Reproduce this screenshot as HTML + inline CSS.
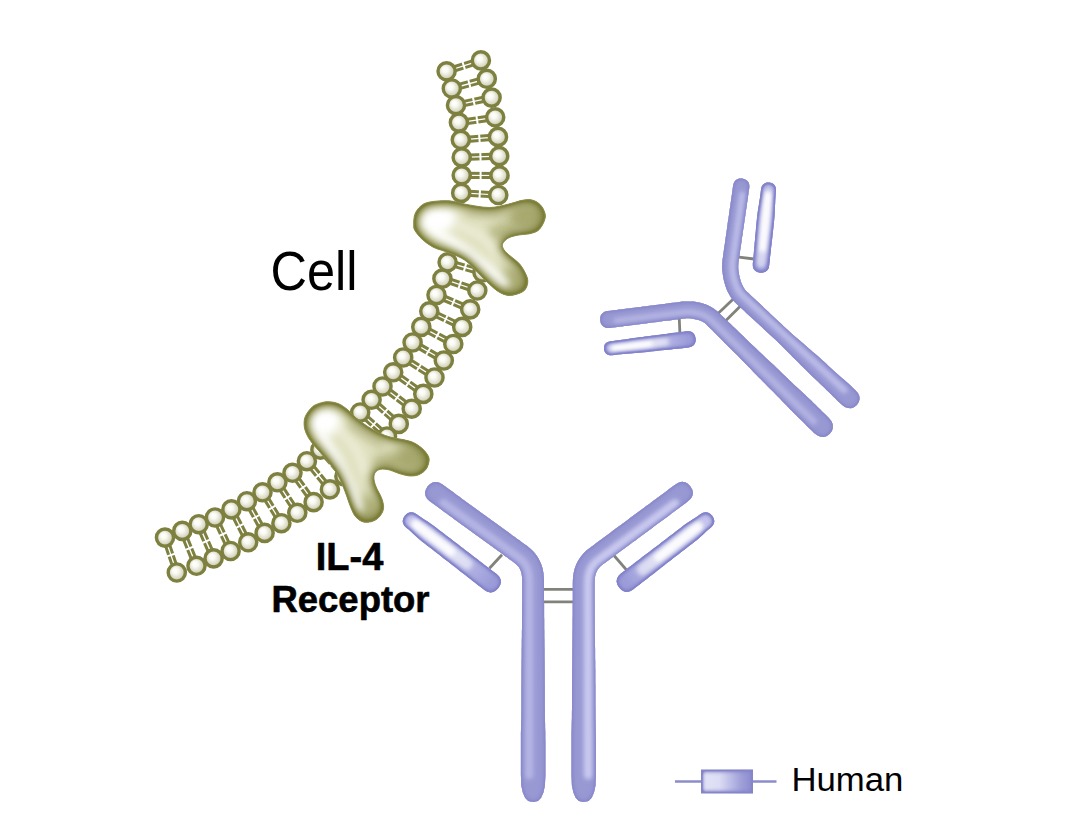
<!DOCTYPE html>
<html lang="en"><head><meta charset="utf-8"><title>IL-4 Receptor</title>
<style>html,body{margin:0;padding:0;background:#fff;}body{width:1080px;height:835px;overflow:hidden;}svg{display:block;}</style>
</head><body>
<svg width="1080" height="835" viewBox="0 0 1080 835"><defs><radialGradient id="bead" cx="0.5" cy="0.5" r="0.56" fx="0.38" fy="0.36"><stop offset="0" stop-color="#ffffff"/><stop offset="0.3" stop-color="#fafaf4"/><stop offset="0.68" stop-color="#dadac6"/><stop offset="1" stop-color="#a2a27c"/></radialGradient><linearGradient id="lgleg" x1="0" y1="0" x2="1" y2="0"><stop offset="0" stop-color="#e4e4f7"/><stop offset="0.35" stop-color="#dcdcf4"/><stop offset="0.8" stop-color="#9c9cd8"/><stop offset="1" stop-color="#8c8cce"/></linearGradient><filter id="b2" filterUnits="userSpaceOnUse" x="0" y="0" width="1080" height="835"><feGaussianBlur stdDeviation="2"/></filter><filter id="b4" filterUnits="userSpaceOnUse" x="0" y="0" width="1080" height="835"><feGaussianBlur stdDeviation="4"/></filter><filter id="b6" filterUnits="userSpaceOnUse" x="0" y="0" width="1080" height="835"><feGaussianBlur stdDeviation="6"/></filter><filter id="glowP" x="-10%" y="-10%" width="120%" height="120%" color-interpolation-filters="sRGB"><feComponentTransfer in="SourceAlpha" result="inv"><feFuncA type="table" tableValues="1 0"/></feComponentTransfer><feGaussianBlur in="inv" stdDeviation="2.4" result="bl0"/><feComponentTransfer in="bl0" result="bm0"><feFuncA type="linear" slope="1.35" intercept="0"/></feComponentTransfer><feFlood flood-color="#7e7ec6" result="fl0"/><feComposite in="fl0" in2="bm0" operator="in" result="sh0"/><feComposite in="sh0" in2="SourceAlpha" operator="in" result="sc0"/><feGaussianBlur in="inv" stdDeviation="0.7" result="bl1"/><feComponentTransfer in="bl1" result="bm1"><feFuncA type="linear" slope="1.3" intercept="0"/></feComponentTransfer><feFlood flood-color="#8080c6" result="fl1"/><feComposite in="fl1" in2="bm1" operator="in" result="sh1"/><feComposite in="sh1" in2="SourceAlpha" operator="in" result="sc1"/><feMerge><feMergeNode in="SourceGraphic"/><feMergeNode in="sc0"/><feMergeNode in="sc1"/></feMerge></filter><filter id="glowL" x="-10%" y="-10%" width="120%" height="120%" color-interpolation-filters="sRGB"><feComponentTransfer in="SourceAlpha" result="inv"><feFuncA type="table" tableValues="1 0"/></feComponentTransfer><feGaussianBlur in="inv" stdDeviation="2.8" result="bl0"/><feComponentTransfer in="bl0" result="bm0"><feFuncA type="linear" slope="3.0" intercept="0"/></feComponentTransfer><feFlood flood-color="#8686cc" result="fl0"/><feComposite in="fl0" in2="bm0" operator="in" result="sh0"/><feComposite in="sh0" in2="SourceAlpha" operator="in" result="sc0"/><feGaussianBlur in="inv" stdDeviation="1.0" result="bl1"/><feComponentTransfer in="bl1" result="bm1"><feFuncA type="linear" slope="2.4" intercept="0"/></feComponentTransfer><feFlood flood-color="#8282c8" result="fl1"/><feComposite in="fl1" in2="bm1" operator="in" result="sh1"/><feComposite in="sh1" in2="SourceAlpha" operator="in" result="sc1"/><feMerge><feMergeNode in="SourceGraphic"/><feMergeNode in="sc0"/><feMergeNode in="sc1"/></feMerge></filter><filter id="glowO" x="-10%" y="-10%" width="120%" height="120%" color-interpolation-filters="sRGB"><feComponentTransfer in="SourceAlpha" result="inv"><feFuncA type="table" tableValues="1 0"/></feComponentTransfer><feGaussianBlur in="inv" stdDeviation="6" result="bl0"/><feComponentTransfer in="bl0" result="bm0"><feFuncA type="linear" slope="2.3" intercept="0"/></feComponentTransfer><feFlood flood-color="#7b7d38" result="fl0"/><feComposite in="fl0" in2="bm0" operator="in" result="sh0"/><feComposite in="sh0" in2="SourceAlpha" operator="in" result="sc0"/><feGaussianBlur in="inv" stdDeviation="1.0" result="bl1"/><feComponentTransfer in="bl1" result="bm1"><feFuncA type="linear" slope="1.5" intercept="0"/></feComponentTransfer><feFlood flood-color="#85873f" result="fl1"/><feComposite in="fl1" in2="bm1" operator="in" result="sh1"/><feComposite in="sh1" in2="SourceAlpha" operator="in" result="sc1"/><feMerge><feMergeNode in="SourceGraphic"/><feMergeNode in="sc0"/><feMergeNode in="sc1"/></feMerge></filter></defs><rect width="1080" height="835" fill="#fff"/><g id="membrane"><path d="M445.9 69.3L480.2 58.4M447.3 73.3L481.6 62.4M451.2 86.4L486.2 76.7M452.4 90.6L487.4 80.9M455.6 103.1L491.2 95.5M456.4 107.3L492 99.7M458.6 120.5L494.9 115.2M459.2 124.7L495.5 119.4M460.6 137.7L497.8 134.8M461 141.9L498.2 139M461.6 155.3L499.1 154M461.8 159.5L499.3 158.2M461.7 173.2L499.5 173.4M461.7 177.4L499.5 177.6M461.3 190.8L498.4 192.9M461.1 195L498.2 197.1M448.2 260.2L483.1 270.4M447 264.4L481.9 274.6M443.1 276.6L478 288.5M441.7 280.6L476.6 292.5M437.3 293L471 307.4M435.7 297L469.4 311.4M430.2 309.4L463.1 325M428.4 313.2L461.3 328.8M422.3 325L454.3 342.1M420.3 328.8L452.3 345.9M413.7 340.6L444.9 358.6M411.5 344.4L442.7 362.4M404.4 355.7L435.7 375.7M402 359.3L433.3 379.3M394.5 370.6L424.6 392.2M391.9 374L422 395.6M383.8 384.8L413 407M381.2 388.2L410.4 410.4M373 398.2L400.2 422.3M370.2 401.4L397.4 425.5M361.6 410.9L388.4 434.9M358.8 414.1L385.6 438.1M322 448.3L346 475M318.8 451.1L342.8 477.8M308.6 459.8L331.6 488M305.2 462.6L328.2 490.8M294.2 471.5L315.3 500.8M290.8 474.1L311.9 503.4M279.2 481.1L299.1 511.6M275.6 483.5L295.5 514M264.3 491.2L283.2 522.1M260.7 493.4L279.6 524.3M248.8 500.2L266.5 531.9M245 502.2L262.7 533.9M233.3 508.4L250.1 541.3M229.5 510.4L246.3 543.3M216.9 516.6L232.5 550.1M213.1 518.4L228.7 551.9M200.7 523.3L215.6 557.5M196.7 525.1L211.6 559.3M184.3 530.1L198.5 565M180.3 531.7L194.5 566.6M167 536.9L178.8 571.8M163 538.3L174.8 573.2" fill="none" stroke="#7e8040" stroke-width="3"/><path d="M462.5 61.8L465 69.9M468.2 79.6L470.4 87.7M472.9 97.3L474.7 105.5M476.4 115.8L477.7 124.1M479.1 134.2L479.7 142.5M480.3 152.6L480.6 160.9M480.6 171.2L480.6 179.6M480 189.8L479.5 198.1M466.2 263.4L463.9 271.4M461.2 280.6L458.5 288.5M455 298.3L451.7 306.1M447.5 315.3L444 322.9M439.3 331.7L435.3 339.2M430.3 347.9L426.1 355.1M421.1 364L416.6 371M410.7 379.7L405.8 386.5M399.6 394.3L394.6 400.9M388 408.7L382.4 415M376.4 421.4L370.8 427.6M335.5 460.2L329.3 465.9M321.7 472.6L315.1 478M306.5 485L299.6 489.9M290.9 495.3L283.8 499.8M275.5 505.6L268.4 509.9M259.4 515L252.1 519.1M243.5 523.9L236.1 527.8M226.6 532.5L219 536M210 539.6L202.3 543M193.3 546.8L185.5 549.9M174.9 553.7L166.9 556.4" fill="none" stroke="#fff" stroke-width="2"/><g fill="url(#bead)" stroke="#7e8040" stroke-width="3.4"><circle cx="446.6" cy="71.3" r="8.6"/><circle cx="480.9" cy="60.4" r="8.6"/><circle cx="451.8" cy="88.5" r="8.6"/><circle cx="486.8" cy="78.8" r="8.6"/><circle cx="456" cy="105.2" r="8.6"/><circle cx="491.6" cy="97.6" r="8.6"/><circle cx="458.9" cy="122.6" r="8.6"/><circle cx="495.2" cy="117.3" r="8.6"/><circle cx="460.8" cy="139.8" r="8.6"/><circle cx="498" cy="136.9" r="8.6"/><circle cx="461.7" cy="157.4" r="8.6"/><circle cx="499.2" cy="156.1" r="8.6"/><circle cx="461.7" cy="175.3" r="8.6"/><circle cx="499.5" cy="175.5" r="8.6"/><circle cx="461.2" cy="192.9" r="8.6"/><circle cx="498.3" cy="195" r="8.6"/><circle cx="447.6" cy="262.3" r="8.6"/><circle cx="482.5" cy="272.5" r="8.6"/><circle cx="442.4" cy="278.6" r="8.6"/><circle cx="477.3" cy="290.5" r="8.6"/><circle cx="436.5" cy="295" r="8.6"/><circle cx="470.2" cy="309.4" r="8.6"/><circle cx="429.3" cy="311.3" r="8.6"/><circle cx="462.2" cy="326.9" r="8.6"/><circle cx="421.3" cy="326.9" r="8.6"/><circle cx="453.3" cy="344" r="8.6"/><circle cx="412.6" cy="342.5" r="8.6"/><circle cx="443.8" cy="360.5" r="8.6"/><circle cx="403.2" cy="357.5" r="8.6"/><circle cx="434.5" cy="377.5" r="8.6"/><circle cx="393.2" cy="372.3" r="8.6"/><circle cx="423.3" cy="393.9" r="8.6"/><circle cx="382.5" cy="386.5" r="8.6"/><circle cx="411.7" cy="408.7" r="8.6"/><circle cx="371.6" cy="399.8" r="8.6"/><circle cx="398.8" cy="423.9" r="8.6"/><circle cx="360.2" cy="412.5" r="8.6"/><circle cx="387" cy="436.5" r="8.6"/><circle cx="320.4" cy="449.7" r="8.6"/><circle cx="344.4" cy="476.4" r="8.6"/><circle cx="306.9" cy="461.2" r="8.6"/><circle cx="329.9" cy="489.4" r="8.6"/><circle cx="292.5" cy="472.8" r="8.6"/><circle cx="313.6" cy="502.1" r="8.6"/><circle cx="277.4" cy="482.3" r="8.6"/><circle cx="297.3" cy="512.8" r="8.6"/><circle cx="262.5" cy="492.3" r="8.6"/><circle cx="281.4" cy="523.2" r="8.6"/><circle cx="246.9" cy="501.2" r="8.6"/><circle cx="264.6" cy="532.9" r="8.6"/><circle cx="231.4" cy="509.4" r="8.6"/><circle cx="248.2" cy="542.3" r="8.6"/><circle cx="215" cy="517.5" r="8.6"/><circle cx="230.6" cy="551" r="8.6"/><circle cx="198.7" cy="524.2" r="8.6"/><circle cx="213.6" cy="558.4" r="8.6"/><circle cx="182.3" cy="530.9" r="8.6"/><circle cx="196.5" cy="565.8" r="8.6"/><circle cx="165" cy="537.6" r="8.6"/><circle cx="176.8" cy="572.5" r="8.6"/></g></g><clipPath id="cp_rec1"><path d="M429.7 202C434.4 201.1 442.8 200.4 449 200.8C455.2 201.2 460.2 203.4 466.9 204.5C473.6 205.6 482.5 207.5 489.2 207.5C495.9 207.5 501.3 205.7 507 204.5C512.7 203.3 518.8 200.8 523.3 200.1C527.8 199.4 530.6 199.4 533.7 200.5C536.8 201.6 540 203.9 541.9 206.7C543.8 209.5 545.7 213.4 545.3 217.1C544.9 220.8 542.1 226.3 539.7 229C537.3 231.7 534.3 232.5 530.8 233.5C527.3 234.5 522.6 234.3 518.9 235C515.2 235.7 511.2 236.4 508.5 237.9C505.8 239.4 503.2 241.9 502.5 243.9C501.8 245.9 502.8 247.8 504 249.8C505.2 251.8 507.5 253.6 510 255.8C512.5 258 516.4 260.5 518.9 263.2C521.4 265.9 523.3 269.1 524.8 272.1C526.3 275.1 527.8 278 527.8 281C527.8 284 526.8 287.8 524.8 290C522.8 292.2 518.9 293.5 515.9 294.4C512.9 295.3 510 295.7 507 295.2C504 294.7 501.1 293.3 498.1 291.4C495.1 289.5 492.7 287.2 489.2 284C485.7 280.8 481 275.8 477.3 272.1C473.6 268.4 470.4 264.4 466.9 261.7C463.4 259 460.2 257.5 456.5 255.8C452.8 254.1 448.6 252.8 444.6 251.3C440.6 249.8 436.4 248.9 432.7 246.9C429 244.9 425.3 242.1 422.3 239.4C419.3 236.7 416.3 233 414.9 230.5C413.5 228 413.7 227.3 413.7 224.6C413.7 221.9 413.7 217.3 414.9 214.2C416.1 211.1 418.3 208 420.8 206C423.3 204 425 202.9 429.7 202Z"/></clipPath><g id="rec1" filter="url(#glowO)"><path d="M429.7 202C434.4 201.1 442.8 200.4 449 200.8C455.2 201.2 460.2 203.4 466.9 204.5C473.6 205.6 482.5 207.5 489.2 207.5C495.9 207.5 501.3 205.7 507 204.5C512.7 203.3 518.8 200.8 523.3 200.1C527.8 199.4 530.6 199.4 533.7 200.5C536.8 201.6 540 203.9 541.9 206.7C543.8 209.5 545.7 213.4 545.3 217.1C544.9 220.8 542.1 226.3 539.7 229C537.3 231.7 534.3 232.5 530.8 233.5C527.3 234.5 522.6 234.3 518.9 235C515.2 235.7 511.2 236.4 508.5 237.9C505.8 239.4 503.2 241.9 502.5 243.9C501.8 245.9 502.8 247.8 504 249.8C505.2 251.8 507.5 253.6 510 255.8C512.5 258 516.4 260.5 518.9 263.2C521.4 265.9 523.3 269.1 524.8 272.1C526.3 275.1 527.8 278 527.8 281C527.8 284 526.8 287.8 524.8 290C522.8 292.2 518.9 293.5 515.9 294.4C512.9 295.3 510 295.7 507 295.2C504 294.7 501.1 293.3 498.1 291.4C495.1 289.5 492.7 287.2 489.2 284C485.7 280.8 481 275.8 477.3 272.1C473.6 268.4 470.4 264.4 466.9 261.7C463.4 259 460.2 257.5 456.5 255.8C452.8 254.1 448.6 252.8 444.6 251.3C440.6 249.8 436.4 248.9 432.7 246.9C429 244.9 425.3 242.1 422.3 239.4C419.3 236.7 416.3 233 414.9 230.5C413.5 228 413.7 227.3 413.7 224.6C413.7 221.9 413.7 217.3 414.9 214.2C416.1 211.1 418.3 208 420.8 206C423.3 204 425 202.9 429.7 202Z" fill="#e0e1c0"/><g clip-path="url(#cp_rec1)"><ellipse cx="528" cy="217" rx="21" ry="15" fill="#8a8c44" opacity="0.66" filter="url(#b6)"/><ellipse cx="514" cy="282" rx="15" ry="16" fill="#8a8c44" opacity="0.6" filter="url(#b6)"/><ellipse cx="503" cy="232" rx="15" ry="9" fill="#8a8c44" opacity="0.42" filter="url(#b4)"/><path d="M470 212 L500 214" stroke="#8a8c44" stroke-opacity="0.3" stroke-width="10" stroke-linecap="round" filter="url(#b4)" fill="none"/><ellipse cx="438" cy="220" rx="19" ry="13" fill="#fff" filter="url(#b4)" transform="rotate(-10 440 221)"/><path d="M434 230 L462 249 L488 269 L504 284" stroke="#ffffff" stroke-width="10" stroke-linecap="round" stroke-linejoin="round" filter="url(#b4)" fill="none"/><path d="M456 224 L482 236 L500 256" stroke="#f4f4e6" stroke-opacity="0.8" stroke-width="6" stroke-linecap="round" stroke-linejoin="round" filter="url(#b4)" fill="none"/></g></g><path d="M429.7 202C434.4 201.1 442.8 200.4 449 200.8C455.2 201.2 460.2 203.4 466.9 204.5C473.6 205.6 482.5 207.5 489.2 207.5C495.9 207.5 501.3 205.7 507 204.5C512.7 203.3 518.8 200.8 523.3 200.1C527.8 199.4 530.6 199.4 533.7 200.5C536.8 201.6 540 203.9 541.9 206.7C543.8 209.5 545.7 213.4 545.3 217.1C544.9 220.8 542.1 226.3 539.7 229C537.3 231.7 534.3 232.5 530.8 233.5C527.3 234.5 522.6 234.3 518.9 235C515.2 235.7 511.2 236.4 508.5 237.9C505.8 239.4 503.2 241.9 502.5 243.9C501.8 245.9 502.8 247.8 504 249.8C505.2 251.8 507.5 253.6 510 255.8C512.5 258 516.4 260.5 518.9 263.2C521.4 265.9 523.3 269.1 524.8 272.1C526.3 275.1 527.8 278 527.8 281C527.8 284 526.8 287.8 524.8 290C522.8 292.2 518.9 293.5 515.9 294.4C512.9 295.3 510 295.7 507 295.2C504 294.7 501.1 293.3 498.1 291.4C495.1 289.5 492.7 287.2 489.2 284C485.7 280.8 481 275.8 477.3 272.1C473.6 268.4 470.4 264.4 466.9 261.7C463.4 259 460.2 257.5 456.5 255.8C452.8 254.1 448.6 252.8 444.6 251.3C440.6 249.8 436.4 248.9 432.7 246.9C429 244.9 425.3 242.1 422.3 239.4C419.3 236.7 416.3 233 414.9 230.5C413.5 228 413.7 227.3 413.7 224.6C413.7 221.9 413.7 217.3 414.9 214.2C416.1 211.1 418.3 208 420.8 206C423.3 204 425 202.9 429.7 202Z" fill="none" stroke="#8b8d4b" stroke-width="1" opacity="0.9"/><clipPath id="cp_rec2"><path d="M312.3 406.9C314.6 404.8 317 404.1 319.7 403.2C322.4 402.3 325.4 401.6 328.6 401.7C331.8 401.8 335.8 402.5 339 403.9C342.2 405.3 345.2 407.7 347.9 409.9C350.6 412.1 352.2 414.6 355.4 417.3C358.6 420 363.3 423.6 367.3 426.2C371.3 428.8 375.2 431 379.2 432.9C383.1 434.8 387.1 436.2 391 437.3C394.9 438.4 399.2 438.7 402.9 439.6C406.6 440.5 410.1 441 413.3 442.5C416.5 444 419.7 446.3 422.2 448.5C424.7 450.7 427.1 453.7 428.2 455.9C429.3 458.1 429.3 459.7 428.9 461.9C428.5 464.1 427.6 467.2 426 469.3C424.4 471.4 421.9 473.4 419.3 474.5C416.7 475.6 413.6 476.1 410.4 476C407.2 475.9 403.5 474.8 400 473.8C396.5 472.8 392.8 470.8 389.6 470C386.4 469.2 383 468.9 380.6 469.3C378.2 469.7 376.5 470.8 375.4 472.3C374.3 473.8 373.8 475.7 373.9 478.2C374 480.7 374.9 483.9 376.2 487.1C377.4 490.3 380.2 494.3 381.4 497.5C382.6 500.7 383.5 503.8 383.6 506.4C383.7 509 383 511.1 381.9 513.2C380.8 515.3 378.8 517.7 376.7 519.2C374.6 520.7 371.8 521.7 369.3 522.1C366.8 522.5 364.2 522.4 361.8 521.4C359.4 520.4 357.1 518.6 355.2 516.2C353.3 513.9 352.1 510.5 350.7 507.3C349.3 504.1 348.4 500.6 347 496.9C345.6 493.2 344.2 489 342.5 485C340.8 481 339.1 477.1 336.6 473.1C334.1 469.1 330.7 464.9 327.7 461.2C324.7 457.5 321.5 454 318.8 450.8C316.1 447.6 313.4 444.8 311.3 441.9C309.2 439 307.5 436.5 306.3 433.6C305.1 430.7 304.2 427.7 304.1 424.7C304 421.7 304.2 418.8 305.6 415.8C307 412.8 310 409 312.3 406.9Z"/></clipPath><g id="rec2" filter="url(#glowO)"><path d="M312.3 406.9C314.6 404.8 317 404.1 319.7 403.2C322.4 402.3 325.4 401.6 328.6 401.7C331.8 401.8 335.8 402.5 339 403.9C342.2 405.3 345.2 407.7 347.9 409.9C350.6 412.1 352.2 414.6 355.4 417.3C358.6 420 363.3 423.6 367.3 426.2C371.3 428.8 375.2 431 379.2 432.9C383.1 434.8 387.1 436.2 391 437.3C394.9 438.4 399.2 438.7 402.9 439.6C406.6 440.5 410.1 441 413.3 442.5C416.5 444 419.7 446.3 422.2 448.5C424.7 450.7 427.1 453.7 428.2 455.9C429.3 458.1 429.3 459.7 428.9 461.9C428.5 464.1 427.6 467.2 426 469.3C424.4 471.4 421.9 473.4 419.3 474.5C416.7 475.6 413.6 476.1 410.4 476C407.2 475.9 403.5 474.8 400 473.8C396.5 472.8 392.8 470.8 389.6 470C386.4 469.2 383 468.9 380.6 469.3C378.2 469.7 376.5 470.8 375.4 472.3C374.3 473.8 373.8 475.7 373.9 478.2C374 480.7 374.9 483.9 376.2 487.1C377.4 490.3 380.2 494.3 381.4 497.5C382.6 500.7 383.5 503.8 383.6 506.4C383.7 509 383 511.1 381.9 513.2C380.8 515.3 378.8 517.7 376.7 519.2C374.6 520.7 371.8 521.7 369.3 522.1C366.8 522.5 364.2 522.4 361.8 521.4C359.4 520.4 357.1 518.6 355.2 516.2C353.3 513.9 352.1 510.5 350.7 507.3C349.3 504.1 348.4 500.6 347 496.9C345.6 493.2 344.2 489 342.5 485C340.8 481 339.1 477.1 336.6 473.1C334.1 469.1 330.7 464.9 327.7 461.2C324.7 457.5 321.5 454 318.8 450.8C316.1 447.6 313.4 444.8 311.3 441.9C309.2 439 307.5 436.5 306.3 433.6C305.1 430.7 304.2 427.7 304.1 424.7C304 421.7 304.2 418.8 305.6 415.8C307 412.8 310 409 312.3 406.9Z" fill="#e0e1c0"/><g clip-path="url(#cp_rec2)"><ellipse cx="413" cy="458" rx="20" ry="15" fill="#8a8c44" opacity="0.66" filter="url(#b6)"/><ellipse cx="368" cy="510" rx="14" ry="15" fill="#8a8c44" opacity="0.6" filter="url(#b6)"/><ellipse cx="386" cy="462" rx="13" ry="9" fill="#8a8c44" opacity="0.42" filter="url(#b4)"/><path d="M352 426 L380 444" stroke="#8a8c44" stroke-opacity="0.3" stroke-width="10" stroke-linecap="round" filter="url(#b4)" fill="none"/><ellipse cx="325" cy="422" rx="16" ry="14" fill="#fff" filter="url(#b4)"/><path d="M320 434 L337 461 L350 490 L358 508" stroke="#ffffff" stroke-width="10" stroke-linecap="round" stroke-linejoin="round" filter="url(#b4)" fill="none"/><path d="M338 428 L356 448 L366 474" stroke="#f4f4e6" stroke-opacity="0.8" stroke-width="6" stroke-linecap="round" stroke-linejoin="round" filter="url(#b4)" fill="none"/></g></g><path d="M312.3 406.9C314.6 404.8 317 404.1 319.7 403.2C322.4 402.3 325.4 401.6 328.6 401.7C331.8 401.8 335.8 402.5 339 403.9C342.2 405.3 345.2 407.7 347.9 409.9C350.6 412.1 352.2 414.6 355.4 417.3C358.6 420 363.3 423.6 367.3 426.2C371.3 428.8 375.2 431 379.2 432.9C383.1 434.8 387.1 436.2 391 437.3C394.9 438.4 399.2 438.7 402.9 439.6C406.6 440.5 410.1 441 413.3 442.5C416.5 444 419.7 446.3 422.2 448.5C424.7 450.7 427.1 453.7 428.2 455.9C429.3 458.1 429.3 459.7 428.9 461.9C428.5 464.1 427.6 467.2 426 469.3C424.4 471.4 421.9 473.4 419.3 474.5C416.7 475.6 413.6 476.1 410.4 476C407.2 475.9 403.5 474.8 400 473.8C396.5 472.8 392.8 470.8 389.6 470C386.4 469.2 383 468.9 380.6 469.3C378.2 469.7 376.5 470.8 375.4 472.3C374.3 473.8 373.8 475.7 373.9 478.2C374 480.7 374.9 483.9 376.2 487.1C377.4 490.3 380.2 494.3 381.4 497.5C382.6 500.7 383.5 503.8 383.6 506.4C383.7 509 383 511.1 381.9 513.2C380.8 515.3 378.8 517.7 376.7 519.2C374.6 520.7 371.8 521.7 369.3 522.1C366.8 522.5 364.2 522.4 361.8 521.4C359.4 520.4 357.1 518.6 355.2 516.2C353.3 513.9 352.1 510.5 350.7 507.3C349.3 504.1 348.4 500.6 347 496.9C345.6 493.2 344.2 489 342.5 485C340.8 481 339.1 477.1 336.6 473.1C334.1 469.1 330.7 464.9 327.7 461.2C324.7 457.5 321.5 454 318.8 450.8C316.1 447.6 313.4 444.8 311.3 441.9C309.2 439 307.5 436.5 306.3 433.6C305.1 430.7 304.2 427.7 304.1 424.7C304 421.7 304.2 418.8 305.6 415.8C307 412.8 310 409 312.3 406.9Z" fill="none" stroke="#8b8d4b" stroke-width="1" opacity="0.9"/><defs><linearGradient id="lg1a" gradientUnits="userSpaceOnUse" x1="768.5" y1="190" x2="761" y2="264.5"><stop offset="0" stop-color="#c4c4ec"/><stop offset="0.5" stop-color="#c0c0ea"/><stop offset="0.85" stop-color="#aaaae0"/><stop offset="1" stop-color="#9c9cda"/></linearGradient><linearGradient id="lg1b" gradientUnits="userSpaceOnUse" x1="611" y1="348.3" x2="687.5" y2="339.4"><stop offset="0" stop-color="#c4c4ec"/><stop offset="0.5" stop-color="#c0c0ea"/><stop offset="0.85" stop-color="#aaaae0"/><stop offset="1" stop-color="#9c9cda"/></linearGradient><linearGradient id="lg2a" gradientUnits="userSpaceOnUse" x1="411.5" y1="521" x2="490.5" y2="582"><stop offset="0" stop-color="#c4c4ec"/><stop offset="0.5" stop-color="#c0c0ea"/><stop offset="0.85" stop-color="#aaaae0"/><stop offset="1" stop-color="#9c9cda"/></linearGradient><linearGradient id="lg2b" gradientUnits="userSpaceOnUse" x1="705.5" y1="521" x2="627" y2="581.5"><stop offset="0" stop-color="#c4c4ec"/><stop offset="0.5" stop-color="#c0c0ea"/><stop offset="0.85" stop-color="#aaaae0"/><stop offset="1" stop-color="#9c9cda"/></linearGradient></defs><g id="ab1"><line x1="739" y1="257.2" x2="754" y2="259" stroke="#82827c" stroke-width="2.8"/><line x1="679.2" y1="317" x2="679.9" y2="333" stroke="#82827c" stroke-width="2.8"/><line x1="718" y1="313.6" x2="736" y2="296.4" stroke="#82827c" stroke-width="2.8"/><line x1="725.4" y1="321.1" x2="742.8" y2="303.7" stroke="#82827c" stroke-width="2.8"/><clipPath id="ct1"><path d="M733.1 185.5L732.7 188.5L732.3 191.5L731.9 194.4L731.4 197.4L731 200.4L730.6 203.3L730.2 206.3L729.7 209.3L729.3 212.2L728.9 215.2L728.5 218.2L728 221.1L727.6 224.1L727.2 227.1L726.8 230L726.4 233L725.9 236L725.5 238.9L725.1 241.9L724.7 244.8L724.2 247.8L723.8 250.8L723.4 253.7L723 256.7L722.5 259.9L722.2 263.3L722.1 266.9L722.3 270.4L722.7 273.8L723.2 277.2L723.9 280.5L724.8 283.8L725.8 287.1L727.1 290.4L728.7 293.6L730.5 296.8L732.8 300L735.4 302.8L737.8 305L740 307.1L742.2 309.1L744.4 311.1L746.6 313.2L748.8 315.2L751 317.2L753.2 319.2L755.4 321.3L757.6 323.3L759.8 325.3L762 327.3L764.2 329.4L766.4 331.4L768.6 333.4L770.8 335.5L773 337.5L775.2 339.6L777.3 341.6L779.5 343.7L781.6 345.8L783.8 347.9L785.9 350L788 352.2L790.1 354.3L792.2 356.4L794.3 358.5L796.5 360.7L798.6 362.8L800.7 364.9L802.8 367L804.9 369.1L807.1 371.2L809.2 373.3L811.4 375.4L813.5 377.5L815.7 379.5L817.9 381.6L820.1 383.7L822.2 385.7L824.4 387.8L826.5 389.9L828.7 392L830.8 394.1L832.9 396.2L835.1 398.3L837.2 400.4L839.4 402.5L841.6 404.5L844.8 407L848 408.1L851.1 408.3L854 407.3L856.8 405L858.8 402.1L859.6 399.1L859.3 396L857.9 393L855.2 389.9L853 387.9L850.8 385.8L848.6 383.8L846.3 381.8L844.1 379.8L841.9 377.9L839.6 375.9L837.4 373.9L835.1 371.9L832.9 369.9L830.7 367.9L828.5 365.9L826.3 363.8L824.1 361.8L821.8 359.8L819.6 357.8L817.4 355.8L815.1 353.8L812.8 351.9L810.6 349.9L808.3 348L806 346L803.8 344L801.5 342.1L799.2 340.1L797 338.2L794.7 336.2L792.4 334.2L790.2 332.2L788 330.2L785.8 328.2L783.6 326.2L781.4 324.1L779.2 322.1L777 320L774.8 318L772.6 315.9L770.5 313.9L768.3 311.8L766.1 309.7L763.9 307.7L761.8 305.6L759.6 303.6L757.4 301.5L755.2 299.5L753 297.4L750.9 295.4L748.7 293.3L746.7 291.5L745.2 289.9L744 288.2L742.9 286.2L741.8 284L740.9 281.7L740.2 279.3L739.5 276.8L739 274.3L738.6 271.7L738.3 269.2L738.2 266.7L738.3 264.3L738.5 261.8L738.9 259L739.4 256L739.8 253.1L740.2 250.1L740.7 247.2L741.1 244.2L741.5 241.2L741.9 238.3L742.4 235.3L742.8 232.3L743.2 229.4L743.7 226.4L744.1 223.4L744.5 220.5L745 217.5L745.4 214.5L745.8 211.6L746.3 208.6L746.7 205.7L747.1 202.7L747.6 199.7L748 196.8L748.4 193.8L748.8 190.8L749.3 187.9L749.3 185L748.6 182.6L747.2 180.7L745.2 179.4L742.4 178.6L739.5 178.6L737.1 179.3L735.2 180.7L733.9 182.7Z"/></clipPath><g filter="url(#glowP)"><path d="M733.1 185.5L732.7 188.5L732.3 191.5L731.9 194.4L731.4 197.4L731 200.4L730.6 203.3L730.2 206.3L729.7 209.3L729.3 212.2L728.9 215.2L728.5 218.2L728 221.1L727.6 224.1L727.2 227.1L726.8 230L726.4 233L725.9 236L725.5 238.9L725.1 241.9L724.7 244.8L724.2 247.8L723.8 250.8L723.4 253.7L723 256.7L722.5 259.9L722.2 263.3L722.1 266.9L722.3 270.4L722.7 273.8L723.2 277.2L723.9 280.5L724.8 283.8L725.8 287.1L727.1 290.4L728.7 293.6L730.5 296.8L732.8 300L735.4 302.8L737.8 305L740 307.1L742.2 309.1L744.4 311.1L746.6 313.2L748.8 315.2L751 317.2L753.2 319.2L755.4 321.3L757.6 323.3L759.8 325.3L762 327.3L764.2 329.4L766.4 331.4L768.6 333.4L770.8 335.5L773 337.5L775.2 339.6L777.3 341.6L779.5 343.7L781.6 345.8L783.8 347.9L785.9 350L788 352.2L790.1 354.3L792.2 356.4L794.3 358.5L796.5 360.7L798.6 362.8L800.7 364.9L802.8 367L804.9 369.1L807.1 371.2L809.2 373.3L811.4 375.4L813.5 377.5L815.7 379.5L817.9 381.6L820.1 383.7L822.2 385.7L824.4 387.8L826.5 389.9L828.7 392L830.8 394.1L832.9 396.2L835.1 398.3L837.2 400.4L839.4 402.5L841.6 404.5L844.8 407L848 408.1L851.1 408.3L854 407.3L856.8 405L858.8 402.1L859.6 399.1L859.3 396L857.9 393L855.2 389.9L853 387.9L850.8 385.8L848.6 383.8L846.3 381.8L844.1 379.8L841.9 377.9L839.6 375.9L837.4 373.9L835.1 371.9L832.9 369.9L830.7 367.9L828.5 365.9L826.3 363.8L824.1 361.8L821.8 359.8L819.6 357.8L817.4 355.8L815.1 353.8L812.8 351.9L810.6 349.9L808.3 348L806 346L803.8 344L801.5 342.1L799.2 340.1L797 338.2L794.7 336.2L792.4 334.2L790.2 332.2L788 330.2L785.8 328.2L783.6 326.2L781.4 324.1L779.2 322.1L777 320L774.8 318L772.6 315.9L770.5 313.9L768.3 311.8L766.1 309.7L763.9 307.7L761.8 305.6L759.6 303.6L757.4 301.5L755.2 299.5L753 297.4L750.9 295.4L748.7 293.3L746.7 291.5L745.2 289.9L744 288.2L742.9 286.2L741.8 284L740.9 281.7L740.2 279.3L739.5 276.8L739 274.3L738.6 271.7L738.3 269.2L738.2 266.7L738.3 264.3L738.5 261.8L738.9 259L739.4 256L739.8 253.1L740.2 250.1L740.7 247.2L741.1 244.2L741.5 241.2L741.9 238.3L742.4 235.3L742.8 232.3L743.2 229.4L743.7 226.4L744.1 223.4L744.5 220.5L745 217.5L745.4 214.5L745.8 211.6L746.3 208.6L746.7 205.7L747.1 202.7L747.6 199.7L748 196.8L748.4 193.8L748.8 190.8L749.3 187.9L749.3 185L748.6 182.6L747.2 180.7L745.2 179.4L742.4 178.6L739.5 178.6L737.1 179.3L735.2 180.7L733.9 182.7Z" fill="#9898d3"/><g clip-path="url(#ct1)"><path d="M742.5 195L742 199L741.4 202.9L740.8 206.9L740.2 210.9L739.7 214.8L739.1 218.8L738.5 222.8L738 226.7L737.4 230.7L736.8 234.7L736.2 238.6L735.7 242.6L735.1 246.6L734.5 250.6L734 254.5L733.4 258.5L732.9 262.3L732.7 266.1L732.8 269.9L733.3 273.7L734 277.5L735 281.2L736.2 284.8L737.7 288.2L739.5 291.5L741.8 294.3L744.5 297L747.4 299.7L750.4 302.4L753.3 305.2L756.2 307.9L759.2 310.6L762.1 313.4L765 316.1L768 318.8L770.9 321.6L773.8 324.3L776.8 327L779.7 329.8L782.6 332.5L785.6 335.2L788.5 338L791.4 340.7L794.4 343.4L797.3 346.2L800.2 348.9L803.2 351.6L806.1 354.4L809 357.1L812 359.8L814.9 362.6L817.8 365.3L820.8 368L823.7 370.8L826.6 373.5L829.6 376.2L832.5 379L835.4 381.7L838.4 384.4L841.3 387.2L844.2 389.9" fill="none" stroke="#bcbce8" stroke-width="7" stroke-linecap="round" stroke-linejoin="round" filter="url(#b2)"/></g></g><clipPath id="ct2"><path d="M609.7 327.9L612.7 327.6L615.6 327.2L618.6 326.8L621.6 326.4L624.6 326L627.6 325.7L630.6 325.3L633.6 324.9L636.5 324.5L639.5 324.2L642.5 323.8L645.5 323.4L648.5 323L651.5 322.6L654.5 322.3L657.5 321.9L660.4 321.5L663.4 321.1L666.4 320.8L669.4 320.4L672.4 320L675.4 319.6L678.4 319.3L681.3 318.9L684.1 318.5L686.6 318.3L689 318.3L691.4 318.5L693.8 318.9L696.2 319.4L698.5 320L700.6 320.8L702.6 321.7L704.4 322.8L706 324.1L707.8 325.9L709.9 327.9L712.1 330.1L714.2 332.2L716.3 334.3L718.4 336.5L720.5 338.6L722.7 340.8L724.8 342.9L726.9 345L729 347.2L731.2 349.3L733.3 351.4L735.5 353.5L737.6 355.6L739.7 357.8L741.8 359.9L743.9 362.1L746.1 364.2L748.2 366.4L750.3 368.5L752.3 370.7L754.4 372.9L756.5 375L758.6 377.2L760.8 379.3L762.9 381.5L765 383.6L767.1 385.7L769.3 387.9L771.4 390L773.5 392.1L775.6 394.2L777.8 396.4L779.9 398.6L781.9 400.7L784 402.9L786.1 405L788.2 407.2L790.3 409.4L792.4 411.5L794.5 413.7L796.7 415.8L798.8 417.9L801 420L803.1 422.1L805.3 424.3L807.4 426.4L809.5 428.5L811.7 430.6L813.8 432.7L817.2 435.3L820.5 436.7L823.8 436.9L826.9 435.9L829.8 433.7L832 430.7L832.9 427.5L832.7 424.3L831.3 421L828.6 417.7L826.4 415.6L824.3 413.5L822.1 411.4L820 409.3L817.8 407.2L815.7 405.1L813.5 402.9L811.4 400.8L809.2 398.8L807 396.7L804.8 394.6L802.6 392.6L800.4 390.5L798.2 388.5L796 386.4L793.8 384.4L791.6 382.3L789.4 380.2L787.2 378.1L785.1 376.1L782.9 374L780.8 371.9L778.6 369.8L776.4 367.7L774.2 365.6L772 363.5L769.8 361.5L767.6 359.4L765.4 357.4L763.2 355.3L761 353.3L758.8 351.2L756.6 349.1L754.5 347.1L752.3 345L750.1 342.9L747.9 340.8L745.8 338.7L743.6 336.6L741.5 334.5L739.3 332.4L737.1 330.3L735 328.2L732.8 326.2L730.6 324.1L728.4 322L726.2 319.9L724.1 317.8L721.9 315.8L719.7 313.6L717.2 311.2L714 308.8L710.7 306.8L707.2 305.1L703.7 303.8L700.2 302.8L696.7 302.1L693.2 301.6L689.6 301.4L686 301.4L682.4 301.6L679.2 302L676.2 302.4L673.2 302.8L670.3 303.1L667.3 303.5L664.3 303.9L661.3 304.3L658.3 304.7L655.3 305L652.3 305.4L649.4 305.8L646.4 306.2L643.4 306.5L640.4 306.9L637.4 307.3L634.4 307.7L631.4 308L628.4 308.4L625.5 308.8L622.5 309.2L619.5 309.6L616.5 309.9L613.5 310.3L610.5 310.7L607.5 311.1L604.6 311.8L602.5 313.2L601 315.1L600.2 317.5L600.2 320.6L600.9 323.5L602.3 325.6L604.2 327.1L606.6 327.9Z"/></clipPath><g filter="url(#glowP)"><path d="M609.7 327.9L612.7 327.6L615.6 327.2L618.6 326.8L621.6 326.4L624.6 326L627.6 325.7L630.6 325.3L633.6 324.9L636.5 324.5L639.5 324.2L642.5 323.8L645.5 323.4L648.5 323L651.5 322.6L654.5 322.3L657.5 321.9L660.4 321.5L663.4 321.1L666.4 320.8L669.4 320.4L672.4 320L675.4 319.6L678.4 319.3L681.3 318.9L684.1 318.5L686.6 318.3L689 318.3L691.4 318.5L693.8 318.9L696.2 319.4L698.5 320L700.6 320.8L702.6 321.7L704.4 322.8L706 324.1L707.8 325.9L709.9 327.9L712.1 330.1L714.2 332.2L716.3 334.3L718.4 336.5L720.5 338.6L722.7 340.8L724.8 342.9L726.9 345L729 347.2L731.2 349.3L733.3 351.4L735.5 353.5L737.6 355.6L739.7 357.8L741.8 359.9L743.9 362.1L746.1 364.2L748.2 366.4L750.3 368.5L752.3 370.7L754.4 372.9L756.5 375L758.6 377.2L760.8 379.3L762.9 381.5L765 383.6L767.1 385.7L769.3 387.9L771.4 390L773.5 392.1L775.6 394.2L777.8 396.4L779.9 398.6L781.9 400.7L784 402.9L786.1 405L788.2 407.2L790.3 409.4L792.4 411.5L794.5 413.7L796.7 415.8L798.8 417.9L801 420L803.1 422.1L805.3 424.3L807.4 426.4L809.5 428.5L811.7 430.6L813.8 432.7L817.2 435.3L820.5 436.7L823.8 436.9L826.9 435.9L829.8 433.7L832 430.7L832.9 427.5L832.7 424.3L831.3 421L828.6 417.7L826.4 415.6L824.3 413.5L822.1 411.4L820 409.3L817.8 407.2L815.7 405.1L813.5 402.9L811.4 400.8L809.2 398.8L807 396.7L804.8 394.6L802.6 392.6L800.4 390.5L798.2 388.5L796 386.4L793.8 384.4L791.6 382.3L789.4 380.2L787.2 378.1L785.1 376.1L782.9 374L780.8 371.9L778.6 369.8L776.4 367.7L774.2 365.6L772 363.5L769.8 361.5L767.6 359.4L765.4 357.4L763.2 355.3L761 353.3L758.8 351.2L756.6 349.1L754.5 347.1L752.3 345L750.1 342.9L747.9 340.8L745.8 338.7L743.6 336.6L741.5 334.5L739.3 332.4L737.1 330.3L735 328.2L732.8 326.2L730.6 324.1L728.4 322L726.2 319.9L724.1 317.8L721.9 315.8L719.7 313.6L717.2 311.2L714 308.8L710.7 306.8L707.2 305.1L703.7 303.8L700.2 302.8L696.7 302.1L693.2 301.6L689.6 301.4L686 301.4L682.4 301.6L679.2 302L676.2 302.4L673.2 302.8L670.3 303.1L667.3 303.5L664.3 303.9L661.3 304.3L658.3 304.7L655.3 305L652.3 305.4L649.4 305.8L646.4 306.2L643.4 306.5L640.4 306.9L637.4 307.3L634.4 307.7L631.4 308L628.4 308.4L625.5 308.8L622.5 309.2L619.5 309.6L616.5 309.9L613.5 310.3L610.5 310.7L607.5 311.1L604.6 311.8L602.5 313.2L601 315.1L600.2 317.5L600.2 320.6L600.9 323.5L602.3 325.6L604.2 327.1L606.6 327.9Z" fill="#9898d3"/><g clip-path="url(#ct2)"><path d="M616.8 321L620.8 320.5L624.7 320L628.7 319.5L632.6 319L636.6 318.5L640.5 318L644.5 317.5L648.4 317L652.4 316.5L656.3 316L660.3 315.5L664.2 315L668.2 314.5L672.1 314L676.1 313.5L680 313L683.9 312.5L687.7 312.3L691.4 312.5L695.1 313L698.8 313.8L702.3 315L705.7 316.6L708.7 318.5L711.5 321L714.3 323.7L717.1 326.5L720 329.3L722.8 332.1L725.6 334.9L728.5 337.7L731.3 340.5L734.2 343.3L737 346.1L739.9 348.8L742.7 351.6L745.5 354.4L748.4 357.2L751.2 360L754.1 362.8L756.9 365.6L759.8 368.4L762.6 371.2L765.4 374L768.3 376.8L771.1 379.5L774 382.3L776.8 385.1L779.7 387.9L782.5 390.7L785.3 393.5L788.2 396.3L791 399.1L793.9 401.9L796.7 404.7L799.5 407.4L802.4 410.2L805.2 413L808.1 415.8L810.9 418.6L813.8 421.4" fill="none" stroke="#b2b2e2" stroke-width="7" stroke-linecap="round" stroke-linejoin="round" filter="url(#b2)"/></g></g><clipPath id="ct3"><path d="M761 189.2L760.7 192.2L760.3 195.2L759.9 198.2L759.4 201.1L759 204.1L758.5 207.1L758 210L757.6 213L757.2 216L756.9 218.9L756.6 221.9L756.3 224.9L756 227.9L755.8 230.9L755.5 233.8L755.2 236.8L755 239.8L754.7 242.8L754.5 245.8L754.2 248.8L753.9 251.7L753.7 254.7L753.4 257.7L753.1 260.7L752.8 263.7L752.9 266.6L753.7 268.9L755.2 270.8L757.3 272.1L760.2 272.7L763.1 272.6L765.4 271.8L767.3 270.3L768.6 268.2L769.2 265.3L769.5 262.3L769.8 259.4L770.1 256.4L770.5 253.4L770.8 250.4L771.1 247.5L771.5 244.5L771.8 241.5L772.2 238.5L772.5 235.6L772.8 232.6L773.2 229.6L773.5 226.6L773.8 223.6L774.1 220.7L774.4 217.7L774.6 214.7L774.8 211.7L774.9 208.7L775 205.7L775.2 202.7L775.3 199.7L775.5 196.7L775.7 193.7L776 190.8L775.9 188.1L775.1 186L773.8 184.3L771.8 183.1L769.3 182.5L766.6 182.6L764.5 183.4L762.8 184.7L761.6 186.7Z"/></clipPath><g filter="url(#glowL)"><path d="M761 189.2L760.7 192.2L760.3 195.2L759.9 198.2L759.4 201.1L759 204.1L758.5 207.1L758 210L757.6 213L757.2 216L756.9 218.9L756.6 221.9L756.3 224.9L756 227.9L755.8 230.9L755.5 233.8L755.2 236.8L755 239.8L754.7 242.8L754.5 245.8L754.2 248.8L753.9 251.7L753.7 254.7L753.4 257.7L753.1 260.7L752.8 263.7L752.9 266.6L753.7 268.9L755.2 270.8L757.3 272.1L760.2 272.7L763.1 272.6L765.4 271.8L767.3 270.3L768.6 268.2L769.2 265.3L769.5 262.3L769.8 259.4L770.1 256.4L770.5 253.4L770.8 250.4L771.1 247.5L771.5 244.5L771.8 241.5L772.2 238.5L772.5 235.6L772.8 232.6L773.2 229.6L773.5 226.6L773.8 223.6L774.1 220.7L774.4 217.7L774.6 214.7L774.8 211.7L774.9 208.7L775 205.7L775.2 202.7L775.3 199.7L775.5 196.7L775.7 193.7L776 190.8L775.9 188.1L775.1 186L773.8 184.3L771.8 183.1L769.3 182.5L766.6 182.6L764.5 183.4L762.8 184.7L761.6 186.7Z" fill="url(#lg1a)"/><g clip-path="url(#ct3)"><path d="M767.9 196L761.1 263" stroke="#fff" stroke-opacity="0.55" stroke-width="10.7" stroke-linecap="round" fill="none" filter="url(#b2)"/><path d="M767.9 196L762.6 248.1" stroke="#fff" stroke-opacity="0.9" stroke-width="7.3" stroke-linecap="round" fill="none" filter="url(#b2)"/></g></g><clipPath id="ct4"><path d="M611.8 355.3L614.8 354.9L617.7 354.6L620.6 354.3L623.6 354.1L626.5 353.8L629.5 353.5L632.5 353.3L635.4 353L638.4 352.7L641.3 352.5L644.3 352.2L647.2 351.9L650.1 351.5L653.1 351.2L656 350.9L659 350.6L661.9 350.3L664.9 350L667.8 349.7L670.8 349.4L673.7 349.1L676.7 348.8L679.6 348.5L682.6 348.2L685.5 347.8L688.4 347.5L691.3 346.8L693.3 345.5L694.8 343.7L695.6 341.3L695.6 338.5L694.9 335.6L693.6 333.6L691.8 332.1L689.4 331.3L686.6 331.3L683.6 331.7L680.7 332L677.7 332.4L674.8 332.8L671.9 333.1L668.9 333.5L666 333.9L663.1 334.3L660.1 334.7L657.2 335.1L654.2 335.4L651.3 335.8L648.4 336.2L645.4 336.5L642.5 336.9L639.5 337.3L636.6 337.7L633.7 338.1L630.7 338.5L627.8 339L624.9 339.4L621.9 339.8L619 340.2L616.1 340.6L613.1 341L610.2 341.3L607.8 341.9L606 343L604.7 344.6L604.1 346.6L604 349.1L604.6 351.5L605.7 353.3L607.3 354.6L609.3 355.2Z"/></clipPath><g filter="url(#glowL)"><path d="M611.8 355.3L614.8 354.9L617.7 354.6L620.6 354.3L623.6 354.1L626.5 353.8L629.5 353.5L632.5 353.3L635.4 353L638.4 352.7L641.3 352.5L644.3 352.2L647.2 351.9L650.1 351.5L653.1 351.2L656 350.9L659 350.6L661.9 350.3L664.9 350L667.8 349.7L670.8 349.4L673.7 349.1L676.7 348.8L679.6 348.5L682.6 348.2L685.5 347.8L688.4 347.5L691.3 346.8L693.3 345.5L694.8 343.7L695.6 341.3L695.6 338.5L694.9 335.6L693.6 333.6L691.8 332.1L689.4 331.3L686.6 331.3L683.6 331.7L680.7 332L677.7 332.4L674.8 332.8L671.9 333.1L668.9 333.5L666 333.9L663.1 334.3L660.1 334.7L657.2 335.1L654.2 335.4L651.3 335.8L648.4 336.2L645.4 336.5L642.5 336.9L639.5 337.3L636.6 337.7L633.7 338.1L630.7 338.5L627.8 339L624.9 339.4L621.9 339.8L619 340.2L616.1 340.6L613.1 341L610.2 341.3L607.8 341.9L606 343L604.7 344.6L604.1 346.6L604 349.1L604.6 351.5L605.7 353.3L607.3 354.6L609.3 355.2Z" fill="url(#lg1b)"/><g clip-path="url(#ct4)"><path d="M614.8 347.9L664.5 342.1" stroke="#fff" stroke-opacity="0.55" stroke-width="9.5" stroke-linecap="round" fill="none" filter="url(#b2)"/><path d="M614.8 347.9L649.2 343.9" stroke="#fff" stroke-opacity="0.9" stroke-width="6.4" stroke-linecap="round" fill="none" filter="url(#b2)"/></g></g></g><g id="ab2"><line x1="489.5" y1="568.3" x2="502" y2="554.8" stroke="#82827c" stroke-width="2.8"/><line x1="614" y1="555.5" x2="627.3" y2="570.9" stroke="#82827c" stroke-width="2.8"/><line x1="540" y1="589.3" x2="578" y2="589.3" stroke="#82827c" stroke-width="2.8"/><line x1="540" y1="601.8" x2="578" y2="601.8" stroke="#82827c" stroke-width="2.8"/><clipPath id="ct5"><path d="M429.8 501.3L432.2 503.1L434.7 504.8L437.1 506.6L439.5 508.3L441.9 510.1L444.4 511.9L446.8 513.6L449.2 515.4L451.6 517.1L454 518.9L456.5 520.7L458.9 522.4L461.3 524.2L463.7 525.9L466.2 527.7L468.6 529.5L471 531.2L473.4 533L475.8 534.7L478.3 536.5L480.7 538.3L483.1 540L485.5 541.8L488 543.5L490.4 545.3L492.8 547.1L495.2 548.8L497.6 550.6L500.1 552.3L502.5 554.1L504.9 555.9L507.3 557.6L509.8 559.4L512.1 561.1L514.3 562.8L516.1 564.2L517.6 565.7L518.8 567.1L519.7 568.6L520.5 570.2L521.1 571.9L521.6 573.8L521.9 575.9L522.1 578.1L522.2 580.6L522.2 583.4L522.2 586.4L522.2 589.3L522.2 592.3L522.2 595.3L522.2 598.3L522.2 601.3L522.1 604.3L522.1 607.3L522.1 610.3L522.1 613.3L522.1 616.3L522 619.3L522 622.3L522 625.3L522 628.3L521.9 631.3L521.9 634.3L521.9 637.3L521.8 640.3L521.8 643.2L521.8 646.2L521.7 649.2L521.7 652.2L521.7 655.2L521.7 658.2L521.6 661.2L521.6 664.2L521.6 667.2L521.5 670.2L521.5 673.2L521.5 676.2L521.5 679.2L521.5 682.2L521.4 685.2L521.4 688.2L521.4 691.2L521.4 694.2L521.4 697.1L521.4 700.1L521.4 703.1L521.4 706.1L521.4 709.1L521.3 712.1L521.3 715.1L521.3 718.1L521.2 721.1L521.1 724.1L521.1 727.1L521 730.1L520.9 733.1L520.9 736.1L520.9 739.1L520.9 742.1L520.9 745.1L520.9 748.1L520.9 751L520.9 754L520.9 757L520.9 760L520.9 763L520.9 766L520.9 769L520.9 772L520.9 775L521.3 785.5L522.8 792.6L525.1 797.7L528.3 800.9L533.1 802L537.9 800.9L541.1 797.7L543.4 792.6L544.9 785.5L545.4 775L545.4 772L545.4 769L545.4 766L545.4 763L545.4 760L545.4 757L545.4 754L545.4 751L545.4 748.1L545.4 745.1L545.4 742.1L545.3 739.1L545.3 736.1L545.3 733.1L545.2 730.1L545.1 727.1L545.1 724.1L545 721.1L544.9 718.1L544.9 715.1L544.9 712.1L544.9 709.1L544.8 706.1L544.8 703.1L544.8 700.1L544.8 697.1L544.8 694.2L544.8 691.2L544.8 688.2L544.8 685.2L544.7 682.2L544.7 679.2L544.7 676.2L544.7 673.2L544.7 670.2L544.6 667.2L544.6 664.2L544.6 661.2L544.5 658.2L544.5 655.2L544.5 652.2L544.5 649.2L544.4 646.2L544.4 643.2L544.4 640.3L544.3 637.3L544.3 634.3L544.3 631.3L544.2 628.3L544.2 625.3L544.2 622.3L544.2 619.3L544.1 616.3L544.1 613.3L544.1 610.3L544.1 607.3L544.1 604.3L544 601.3L544 598.3L544 595.3L544 592.3L544 589.3L544 586.4L544 583.3L544 580.1L543.8 576.6L543.4 572.9L542.7 569.1L541.6 565.2L540 561.4L538.1 557.7L535.7 554.2L532.9 551.1L530.1 548.4L527.2 546.1L524.6 544.2L522.1 542.4L519.7 540.6L517.3 538.9L514.8 537.1L512.4 535.4L510 533.6L507.6 531.8L505.1 530.1L502.7 528.3L500.3 526.6L497.9 524.8L495.5 523L493 521.3L490.6 519.5L488.2 517.8L485.8 516L483.3 514.2L480.9 512.5L478.5 510.7L476.1 509L473.7 507.2L471.2 505.4L468.8 503.7L466.4 501.9L464 500.2L461.6 498.4L459.1 496.6L456.7 494.9L454.3 493.1L451.9 491.3L449.4 489.6L447 487.8L444.6 486.1L442.2 484.3L438.9 482.5L435.8 481.9L432.8 482.4L430.1 483.9L427.5 486.6L425.7 489.9L425.1 493L425.6 496L427.1 498.7Z"/></clipPath><g filter="url(#glowP)"><path d="M429.8 501.3L432.2 503.1L434.7 504.8L437.1 506.6L439.5 508.3L441.9 510.1L444.4 511.9L446.8 513.6L449.2 515.4L451.6 517.1L454 518.9L456.5 520.7L458.9 522.4L461.3 524.2L463.7 525.9L466.2 527.7L468.6 529.5L471 531.2L473.4 533L475.8 534.7L478.3 536.5L480.7 538.3L483.1 540L485.5 541.8L488 543.5L490.4 545.3L492.8 547.1L495.2 548.8L497.6 550.6L500.1 552.3L502.5 554.1L504.9 555.9L507.3 557.6L509.8 559.4L512.1 561.1L514.3 562.8L516.1 564.2L517.6 565.7L518.8 567.1L519.7 568.6L520.5 570.2L521.1 571.9L521.6 573.8L521.9 575.9L522.1 578.1L522.2 580.6L522.2 583.4L522.2 586.4L522.2 589.3L522.2 592.3L522.2 595.3L522.2 598.3L522.2 601.3L522.1 604.3L522.1 607.3L522.1 610.3L522.1 613.3L522.1 616.3L522 619.3L522 622.3L522 625.3L522 628.3L521.9 631.3L521.9 634.3L521.9 637.3L521.8 640.3L521.8 643.2L521.8 646.2L521.7 649.2L521.7 652.2L521.7 655.2L521.7 658.2L521.6 661.2L521.6 664.2L521.6 667.2L521.5 670.2L521.5 673.2L521.5 676.2L521.5 679.2L521.5 682.2L521.4 685.2L521.4 688.2L521.4 691.2L521.4 694.2L521.4 697.1L521.4 700.1L521.4 703.1L521.4 706.1L521.4 709.1L521.3 712.1L521.3 715.1L521.3 718.1L521.2 721.1L521.1 724.1L521.1 727.1L521 730.1L520.9 733.1L520.9 736.1L520.9 739.1L520.9 742.1L520.9 745.1L520.9 748.1L520.9 751L520.9 754L520.9 757L520.9 760L520.9 763L520.9 766L520.9 769L520.9 772L520.9 775L521.3 785.5L522.8 792.6L525.1 797.7L528.3 800.9L533.1 802L537.9 800.9L541.1 797.7L543.4 792.6L544.9 785.5L545.4 775L545.4 772L545.4 769L545.4 766L545.4 763L545.4 760L545.4 757L545.4 754L545.4 751L545.4 748.1L545.4 745.1L545.4 742.1L545.3 739.1L545.3 736.1L545.3 733.1L545.2 730.1L545.1 727.1L545.1 724.1L545 721.1L544.9 718.1L544.9 715.1L544.9 712.1L544.9 709.1L544.8 706.1L544.8 703.1L544.8 700.1L544.8 697.1L544.8 694.2L544.8 691.2L544.8 688.2L544.8 685.2L544.7 682.2L544.7 679.2L544.7 676.2L544.7 673.2L544.7 670.2L544.6 667.2L544.6 664.2L544.6 661.2L544.5 658.2L544.5 655.2L544.5 652.2L544.5 649.2L544.4 646.2L544.4 643.2L544.4 640.3L544.3 637.3L544.3 634.3L544.3 631.3L544.2 628.3L544.2 625.3L544.2 622.3L544.2 619.3L544.1 616.3L544.1 613.3L544.1 610.3L544.1 607.3L544.1 604.3L544 601.3L544 598.3L544 595.3L544 592.3L544 589.3L544 586.4L544 583.3L544 580.1L543.8 576.6L543.4 572.9L542.7 569.1L541.6 565.2L540 561.4L538.1 557.7L535.7 554.2L532.9 551.1L530.1 548.4L527.2 546.1L524.6 544.2L522.1 542.4L519.7 540.6L517.3 538.9L514.8 537.1L512.4 535.4L510 533.6L507.6 531.8L505.1 530.1L502.7 528.3L500.3 526.6L497.9 524.8L495.5 523L493 521.3L490.6 519.5L488.2 517.8L485.8 516L483.3 514.2L480.9 512.5L478.5 510.7L476.1 509L473.7 507.2L471.2 505.4L468.8 503.7L466.4 501.9L464 500.2L461.6 498.4L459.1 496.6L456.7 494.9L454.3 493.1L451.9 491.3L449.4 489.6L447 487.8L444.6 486.1L442.2 484.3L438.9 482.5L435.8 481.9L432.8 482.4L430.1 483.9L427.5 486.6L425.7 489.9L425.1 493L425.6 496L427.1 498.7Z" fill="#9898d3"/><g clip-path="url(#ct5)"><path d="M443.4 503.1L446.6 505.5L449.9 507.8L453.1 510.2L456.4 512.6L459.6 514.9L462.9 517.3L466.1 519.7L469.4 522L472.6 524.4L475.9 526.7L479.1 529.1L482.4 531.5L485.6 533.8L488.9 536.2L492.1 538.5L495.4 540.9L498.6 543.3L501.9 545.6L505.1 548L508.4 550.4L511.6 552.7L514.9 555.1L518 557.4L520.9 559.7L523.3 562.2L525.3 565L526.9 568L528 571.3L528.7 574.8L529 578.4L529.1 582.2L529.1 586.2L529.1 590.2L529.1 594.2L529.1 598.3L529.1 602.3L529.1 606.3L529.1 610.3L529.1 614.3L529.1 618.3L529.1 622.4L529.1 626.4L529.1 630.4L529.1 634.4L529.1 638.4L529.1 642.4L529.1 646.5L529.1 650.5L529.1 654.5L529.1 658.5L529.1 662.5L529.1 666.5L529.1 670.6L529.1 674.6L529.1 678.6L529.1 682.6L529.1 686.6L529.1 690.6L529.1 694.7L529.1 698.7L529.1 702.7L529.1 706.7L529.1 710.7L529.1 714.7L529.1 718.8L529.1 722.8L529.1 726.8L529.1 730.8L529.1 734.8L529.1 738.8L529.1 742.9L529.1 746.9L529.1 750.9L529.1 754.9L529.1 758.9L529.1 762.9L529.1 767L529.1 771L529.1 775" fill="none" stroke="#b4b4e4" stroke-width="9" stroke-linecap="round" stroke-linejoin="round" filter="url(#b2)"/></g></g><clipPath id="ct6"><path d="M675.8 484.3L673.3 486L670.9 487.8L668.5 489.6L666.1 491.4L663.7 493.2L661.3 495L658.9 496.7L656.5 498.5L654.1 500.3L651.7 502.1L649.3 503.9L646.9 505.6L644.4 507.4L642 509.2L639.6 511L637.2 512.8L634.8 514.6L632.4 516.3L630 518.1L627.6 519.9L625.2 521.7L622.8 523.5L620.4 525.3L617.9 527L615.5 528.8L613.1 530.6L610.7 532.4L608.3 534.2L605.9 536L603.5 537.7L601.1 539.5L598.7 541.3L596.3 543.1L593.9 544.9L591.4 546.7L588.7 548.7L585.8 551.1L583 553.9L580.4 557.2L578.1 560.7L576.2 564.4L574.8 568.3L573.8 572.2L573.2 576L572.9 579.6L572.8 583.1L572.8 586.2L572.8 589.2L572.8 592.2L572.8 595.2L572.8 598.2L572.8 601.2L572.7 604.2L572.7 607.2L572.7 610.2L572.7 613.2L572.7 616.2L572.6 619.2L572.6 622.2L572.6 625.2L572.6 628.2L572.5 631.2L572.5 634.2L572.5 637.2L572.4 640.2L572.4 643.2L572.4 646.2L572.3 649.2L572.3 652.1L572.3 655.1L572.3 658.1L572.2 661.1L572.2 664.1L572.2 667.1L572.1 670.1L572.1 673.1L572.1 676.1L572.1 679.1L572.1 682.1L572 685.1L572 688.1L572 691.1L572 694.1L572 697.1L572 700.1L572 703.1L572 706.1L572 709.1L571.9 712.1L571.9 715.1L571.9 718.1L571.8 721.1L571.7 724.1L571.7 727.1L571.6 730.1L571.5 733.1L571.5 736L571.5 739L571.5 742L571.5 745L571.5 748L571.5 751L571.5 754L571.5 757L571.5 760L571.5 763L571.5 766L571.5 769L571.5 772L571.5 775L571.9 785.5L573.4 792.6L575.7 797.7L578.9 800.9L583.7 802L588.5 800.9L591.7 797.7L594 792.6L595.5 785.5L596 775L596 772L596 769L596 766L596 763L596 760L596 757L596 754L596 751L596 748L596 745L596 742L595.9 739L595.9 736L595.9 733.1L595.8 730.1L595.7 727.1L595.7 724.1L595.6 721.1L595.5 718.1L595.5 715.1L595.5 712.1L595.5 709.1L595.4 706.1L595.4 703.1L595.4 700.1L595.4 697.1L595.4 694.1L595.4 691.1L595.4 688.1L595.4 685.1L595.3 682.1L595.3 679.1L595.3 676.1L595.3 673.1L595.3 670.1L595.2 667.1L595.2 664.1L595.2 661.1L595.1 658.1L595.1 655.1L595.1 652.1L595.1 649.2L595 646.2L595 643.2L595 640.2L594.9 637.2L594.9 634.2L594.9 631.2L594.8 628.2L594.8 625.2L594.8 622.2L594.8 619.2L594.7 616.2L594.7 613.2L594.7 610.2L594.7 607.2L594.7 604.2L594.6 601.2L594.6 598.2L594.6 595.2L594.6 592.2L594.6 589.2L594.6 586.2L594.6 583.4L594.7 580.8L594.8 578.5L595.1 576.4L595.5 574.4L596.1 572.7L596.9 571.1L597.8 569.5L598.9 568L600.2 566.6L601.9 565.1L604 563.5L606.4 561.7L608.8 560L611.2 558.2L613.6 556.4L616 554.6L618.4 552.8L620.8 551L623.2 549.3L625.6 547.5L628 545.7L630.4 543.9L632.8 542.1L635.3 540.4L637.7 538.6L640.1 536.8L642.5 535L644.9 533.2L647.3 531.4L649.7 529.7L652.1 527.9L654.5 526.1L656.9 524.3L659.3 522.5L661.8 520.7L664.2 519L666.6 517.2L669 515.4L671.4 513.6L673.8 511.8L676.2 510.1L678.6 508.3L681 506.5L683.4 504.7L685.8 502.9L688.2 501.1L690.9 498.6L692.4 495.8L692.9 492.8L692.3 489.7L690.4 486.5L687.9 483.8L685.1 482.3L682.1 481.8L679 482.4Z"/></clipPath><g filter="url(#glowP)"><path d="M675.8 484.3L673.3 486L670.9 487.8L668.5 489.6L666.1 491.4L663.7 493.2L661.3 495L658.9 496.7L656.5 498.5L654.1 500.3L651.7 502.1L649.3 503.9L646.9 505.6L644.4 507.4L642 509.2L639.6 511L637.2 512.8L634.8 514.6L632.4 516.3L630 518.1L627.6 519.9L625.2 521.7L622.8 523.5L620.4 525.3L617.9 527L615.5 528.8L613.1 530.6L610.7 532.4L608.3 534.2L605.9 536L603.5 537.7L601.1 539.5L598.7 541.3L596.3 543.1L593.9 544.9L591.4 546.7L588.7 548.7L585.8 551.1L583 553.9L580.4 557.2L578.1 560.7L576.2 564.4L574.8 568.3L573.8 572.2L573.2 576L572.9 579.6L572.8 583.1L572.8 586.2L572.8 589.2L572.8 592.2L572.8 595.2L572.8 598.2L572.8 601.2L572.7 604.2L572.7 607.2L572.7 610.2L572.7 613.2L572.7 616.2L572.6 619.2L572.6 622.2L572.6 625.2L572.6 628.2L572.5 631.2L572.5 634.2L572.5 637.2L572.4 640.2L572.4 643.2L572.4 646.2L572.3 649.2L572.3 652.1L572.3 655.1L572.3 658.1L572.2 661.1L572.2 664.1L572.2 667.1L572.1 670.1L572.1 673.1L572.1 676.1L572.1 679.1L572.1 682.1L572 685.1L572 688.1L572 691.1L572 694.1L572 697.1L572 700.1L572 703.1L572 706.1L572 709.1L571.9 712.1L571.9 715.1L571.9 718.1L571.8 721.1L571.7 724.1L571.7 727.1L571.6 730.1L571.5 733.1L571.5 736L571.5 739L571.5 742L571.5 745L571.5 748L571.5 751L571.5 754L571.5 757L571.5 760L571.5 763L571.5 766L571.5 769L571.5 772L571.5 775L571.9 785.5L573.4 792.6L575.7 797.7L578.9 800.9L583.7 802L588.5 800.9L591.7 797.7L594 792.6L595.5 785.5L596 775L596 772L596 769L596 766L596 763L596 760L596 757L596 754L596 751L596 748L596 745L596 742L595.9 739L595.9 736L595.9 733.1L595.8 730.1L595.7 727.1L595.7 724.1L595.6 721.1L595.5 718.1L595.5 715.1L595.5 712.1L595.5 709.1L595.4 706.1L595.4 703.1L595.4 700.1L595.4 697.1L595.4 694.1L595.4 691.1L595.4 688.1L595.4 685.1L595.3 682.1L595.3 679.1L595.3 676.1L595.3 673.1L595.3 670.1L595.2 667.1L595.2 664.1L595.2 661.1L595.1 658.1L595.1 655.1L595.1 652.1L595.1 649.2L595 646.2L595 643.2L595 640.2L594.9 637.2L594.9 634.2L594.9 631.2L594.8 628.2L594.8 625.2L594.8 622.2L594.8 619.2L594.7 616.2L594.7 613.2L594.7 610.2L594.7 607.2L594.7 604.2L594.6 601.2L594.6 598.2L594.6 595.2L594.6 592.2L594.6 589.2L594.6 586.2L594.6 583.4L594.7 580.8L594.8 578.5L595.1 576.4L595.5 574.4L596.1 572.7L596.9 571.1L597.8 569.5L598.9 568L600.2 566.6L601.9 565.1L604 563.5L606.4 561.7L608.8 560L611.2 558.2L613.6 556.4L616 554.6L618.4 552.8L620.8 551L623.2 549.3L625.6 547.5L628 545.7L630.4 543.9L632.8 542.1L635.3 540.4L637.7 538.6L640.1 536.8L642.5 535L644.9 533.2L647.3 531.4L649.7 529.7L652.1 527.9L654.5 526.1L656.9 524.3L659.3 522.5L661.8 520.7L664.2 519L666.6 517.2L669 515.4L671.4 513.6L673.8 511.8L676.2 510.1L678.6 508.3L681 506.5L683.4 504.7L685.8 502.9L688.2 501.1L690.9 498.6L692.4 495.8L692.9 492.8L692.3 489.7L690.4 486.5L687.9 483.8L685.1 482.3L682.1 481.8L679 482.4Z" fill="#9898d3"/><g clip-path="url(#ct6)"><path d="M675 503.5L671.8 505.9L668.5 508.3L665.3 510.7L662.1 513.1L658.8 515.4L655.6 517.8L652.4 520.2L649.1 522.6L645.9 525L642.7 527.4L639.4 529.8L636.2 532.2L633 534.6L629.7 537L626.5 539.4L623.3 541.7L620.1 544.1L616.8 546.5L613.6 548.9L610.4 551.3L607.1 553.7L603.9 556.1L600.7 558.5L597.7 560.8L595.1 563.1L592.9 565.7L591.1 568.6L589.8 571.7L588.9 575L588.4 578.5L588.2 582.2L588.2 586.1L588.2 590.1L588.2 594.1L588.2 598.1L588.2 602.2L588.2 606.2L588.2 610.2L588.2 614.2L588.2 618.2L588.2 622.3L588.2 626.3L588.2 630.3L588.2 634.3L588.2 638.3L588.2 642.4L588.2 646.4L588.2 650.4L588.2 654.4L588.2 658.4L588.2 662.5L588.2 666.5L588.2 670.5L588.2 674.5L588.2 678.5L588.2 682.5L588.2 686.6L588.2 690.6L588.2 694.6L588.2 698.6L588.2 702.6L588.2 706.7L588.2 710.7L588.2 714.7L588.2 718.7L588.2 722.7L588.2 726.8L588.2 730.8L588.2 734.8L588.2 738.8L588.2 742.8L588.2 746.9L588.2 750.9L588.2 754.9L588.2 758.9L588.2 762.9L588.2 767L588.2 771L588.2 775" fill="none" stroke="#c8c8ef" stroke-width="9" stroke-linecap="round" stroke-linejoin="round" filter="url(#b2)"/></g></g><clipPath id="ct7"><path d="M406.3 527.7L408.7 529.6L410.9 531.6L413.2 533.7L415.4 535.8L417.6 537.8L419.9 539.8L422.3 541.7L424.7 543.5L427.1 545.4L429.5 547.2L431.9 549.1L434.3 550.9L436.6 552.8L439 554.6L441.4 556.5L443.8 558.4L446.2 560.2L448.6 562.1L451 563.9L453.3 565.8L455.7 567.6L458.1 569.5L460.5 571.4L462.9 573.2L465.3 575.1L467.7 576.9L470 578.8L472.4 580.7L474.8 582.5L477.2 584.4L479.6 586.2L482 588.1L484.4 589.9L487.4 591.7L490.4 592.4L493.2 592L495.9 590.6L498.4 588.1L500.2 585.1L500.9 582.1L500.5 579.3L499.1 576.6L496.6 574.1L494.2 572.2L491.8 570.4L489.4 568.5L487 566.7L484.6 564.9L482.2 563L479.8 561.2L477.4 559.3L475 557.5L472.6 555.7L470.2 553.8L467.8 552L465.4 550.2L463 548.3L460.6 546.5L458.2 544.6L455.8 542.8L453.4 541L451 539.1L448.6 537.3L446.2 535.4L443.8 533.6L441.4 531.8L439 529.9L436.6 528.1L434.2 526.2L431.8 524.4L429.3 522.7L426.8 521L424.2 519.4L421.7 517.8L419.1 516.1L416.7 514.3L414.1 512.7L411.6 512.2L409.2 512.5L406.9 513.7L404.8 515.8L403.2 518.4L402.7 520.9L403 523.3L404.2 525.6Z"/></clipPath><g filter="url(#glowL)"><path d="M406.3 527.7L408.7 529.6L410.9 531.6L413.2 533.7L415.4 535.8L417.6 537.8L419.9 539.8L422.3 541.7L424.7 543.5L427.1 545.4L429.5 547.2L431.9 549.1L434.3 550.9L436.6 552.8L439 554.6L441.4 556.5L443.8 558.4L446.2 560.2L448.6 562.1L451 563.9L453.3 565.8L455.7 567.6L458.1 569.5L460.5 571.4L462.9 573.2L465.3 575.1L467.7 576.9L470 578.8L472.4 580.7L474.8 582.5L477.2 584.4L479.6 586.2L482 588.1L484.4 589.9L487.4 591.7L490.4 592.4L493.2 592L495.9 590.6L498.4 588.1L500.2 585.1L500.9 582.1L500.5 579.3L499.1 576.6L496.6 574.1L494.2 572.2L491.8 570.4L489.4 568.5L487 566.7L484.6 564.9L482.2 563L479.8 561.2L477.4 559.3L475 557.5L472.6 555.7L470.2 553.8L467.8 552L465.4 550.2L463 548.3L460.6 546.5L458.2 544.6L455.8 542.8L453.4 541L451 539.1L448.6 537.3L446.2 535.4L443.8 533.6L441.4 531.8L439 529.9L436.6 528.1L434.2 526.2L431.8 524.4L429.3 522.7L426.8 521L424.2 519.4L421.7 517.8L419.1 516.1L416.7 514.3L414.1 512.7L411.6 512.2L409.2 512.5L406.9 513.7L404.8 515.8L403.2 518.4L402.7 520.9L403 523.3L404.2 525.6Z" fill="url(#lg2a)"/><g clip-path="url(#ct7)"><path d="M416.2 524.7L466.8 563.7" stroke="#fff" stroke-opacity="0.55" stroke-width="12.1" stroke-linecap="round" fill="none" filter="url(#b2)"/><path d="M416.2 524.7L451 551.5" stroke="#fff" stroke-opacity="0.9" stroke-width="8.2" stroke-linecap="round" fill="none" filter="url(#b2)"/></g></g><clipPath id="ct8"><path d="M700.3 514.3L697.9 516L695.4 517.7L692.8 519.3L690.3 521L687.8 522.6L685.3 524.3L682.9 526.1L680.5 527.9L678.1 529.8L675.8 531.6L673.4 533.4L671 535.3L668.6 537.1L666.2 538.9L663.8 540.7L661.4 542.6L659.1 544.4L656.7 546.2L654.3 548L651.9 549.8L649.5 551.7L647.1 553.5L644.7 555.3L642.3 557.1L640 559L637.6 560.8L635.2 562.6L632.8 564.4L630.4 566.3L628 568.1L625.7 569.9L623.3 571.7L620.9 573.6L618.4 576.1L617 578.7L616.6 581.6L617.3 584.5L619.1 587.6L621.6 590.1L624.2 591.5L627.1 591.9L630 591.2L633.1 589.4L635.5 587.6L637.9 585.8L640.2 583.9L642.6 582.1L645 580.2L647.4 578.4L649.7 576.6L652.1 574.7L654.5 572.9L656.8 571L659.2 569.2L661.6 567.3L664 565.5L666.3 563.6L668.7 561.8L671.1 560L673.4 558.1L675.8 556.3L678.2 554.4L680.6 552.6L682.9 550.7L685.3 548.9L687.7 547.1L690 545.2L692.4 543.4L694.8 541.6L697.2 539.7L699.4 537.7L701.7 535.7L703.9 533.7L706.1 531.6L708.4 529.6L710.7 527.7L712.8 525.6L714 523.3L714.3 520.9L713.8 518.4L712.2 515.8L710.1 513.7L707.8 512.5L705.4 512.2L702.9 512.7Z"/></clipPath><g filter="url(#glowL)"><path d="M700.3 514.3L697.9 516L695.4 517.7L692.8 519.3L690.3 521L687.8 522.6L685.3 524.3L682.9 526.1L680.5 527.9L678.1 529.8L675.8 531.6L673.4 533.4L671 535.3L668.6 537.1L666.2 538.9L663.8 540.7L661.4 542.6L659.1 544.4L656.7 546.2L654.3 548L651.9 549.8L649.5 551.7L647.1 553.5L644.7 555.3L642.3 557.1L640 559L637.6 560.8L635.2 562.6L632.8 564.4L630.4 566.3L628 568.1L625.7 569.9L623.3 571.7L620.9 573.6L618.4 576.1L617 578.7L616.6 581.6L617.3 584.5L619.1 587.6L621.6 590.1L624.2 591.5L627.1 591.9L630 591.2L633.1 589.4L635.5 587.6L637.9 585.8L640.2 583.9L642.6 582.1L645 580.2L647.4 578.4L649.7 576.6L652.1 574.7L654.5 572.9L656.8 571L659.2 569.2L661.6 567.3L664 565.5L666.3 563.6L668.7 561.8L671.1 560L673.4 558.1L675.8 556.3L678.2 554.4L680.6 552.6L682.9 550.7L685.3 548.9L687.7 547.1L690 545.2L692.4 543.4L694.8 541.6L697.2 539.7L699.4 537.7L701.7 535.7L703.9 533.7L706.1 531.6L708.4 529.6L710.7 527.7L712.8 525.6L714 523.3L714.3 520.9L713.8 518.4L712.2 515.8L710.1 513.7L707.8 512.5L705.4 512.2L702.9 512.7Z" fill="url(#lg2b)"/><g clip-path="url(#ct8)"><path d="M697.6 527L642.7 569.4" stroke="#fff" stroke-opacity="0.55" stroke-width="12.1" stroke-linecap="round" fill="none" filter="url(#b2)"/><path d="M697.6 527L658.4 557.3" stroke="#fff" stroke-opacity="0.9" stroke-width="8.2" stroke-linecap="round" fill="none" filter="url(#b2)"/></g></g></g><g id="legend"><line x1="675" y1="781.5" x2="776.5" y2="781.5" stroke="#8c8cca" stroke-width="2.5"/><g filter="url(#glowL)"><rect x="701" y="769.8" width="52" height="23.4" fill="url(#lgleg)"/></g><rect x="701.6" y="770.4" width="50.8" height="22.2" fill="none" stroke="#8686c6" stroke-width="1.2"/></g><g font-family="'Liberation Sans', sans-serif" fill="#000"><text x="270.5" y="290" font-size="55" textLength="87" lengthAdjust="spacingAndGlyphs">Cell</text><g font-weight="bold" stroke="#000" stroke-width="0.6" stroke-linejoin="round"><text x="315.7" y="570" font-size="38.5" textLength="67.6" lengthAdjust="spacingAndGlyphs">IL-4</text><text x="271.5" y="612" font-size="36" textLength="158" lengthAdjust="spacingAndGlyphs">Receptor</text></g><text x="791.4" y="790.6" font-size="33" textLength="112" lengthAdjust="spacingAndGlyphs">Human</text></g></svg>
</body></html>
